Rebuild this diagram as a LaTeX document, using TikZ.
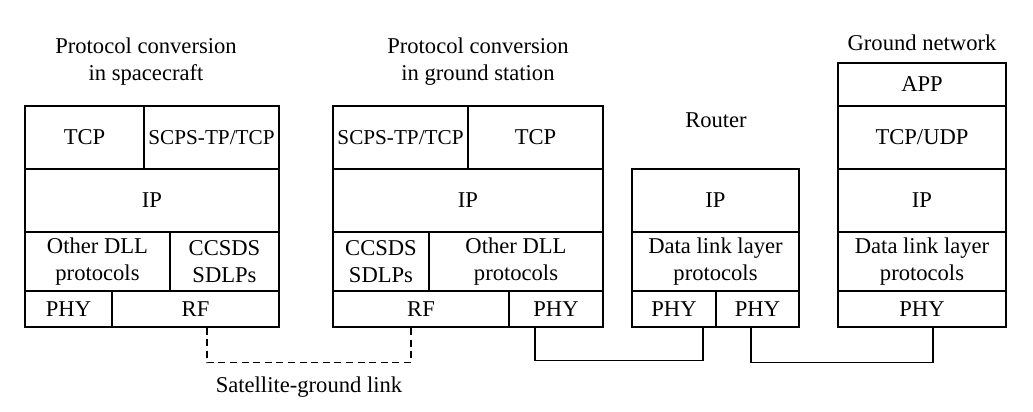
\documentclass[tikz,border=0pt]{standalone}
\usepackage{fontspec}
\setmainfont{Liberation Serif}
\usepackage{tikz}
\usetikzlibrary{positioning}

\begin{document}
\begin{tikzpicture}[x=0.5pt, y=-0.5pt,
        layer/.style={draw, line width=0.7pt, inner sep=0pt, align=center,
            font=\fontsize{11.3}{13.5}\selectfont},
        title/.style={align=center, inner sep=0pt, font=\fontsize{11.3}{13.5}\selectfont},
        link/.style={line width=0.7pt},
        radio/.style={line width=0.7pt, dash pattern=on 3.5pt off 2.3pt}]
        \useasboundingbox (0,0) rectangle (1033,412);

        % spacecraft
        \node[title]  (sc)       at (146,61.5)  {Protocol conversion\\in spacecraft};
        \node[layer, minimum width=59.5pt, minimum height=31.5pt]  (sc_tcp)   at (84.5,137.5)  {TCP};
        \node[layer, minimum width=67.5pt, minimum height=31.5pt]  (sc_scps)  at (211.5,137.5) {\fontsize{10.6}{13.5}\selectfont SCPS-TP/TCP};
        \node[layer, minimum width=127pt,  minimum height=31.5pt]  (sc_ip)    at (152,200.5)   {IP};
        \node[layer, minimum width=72.5pt, minimum height=29.5pt]  (sc_dll)   at (97.5,261.5)  {Other DLL\\protocols};
        \node[layer, minimum width=54.5pt, minimum height=29.5pt]  (sc_ccsds) at (224.5,261.5) {CCSDS\\SDLPs};
        \node[layer, minimum width=43.5pt, minimum height=18pt]    (sc_phy)   at (68.5,309)    {PHY};
        \node[layer, minimum width=83.5pt, minimum height=18pt]    (sc_rf)    at (195.5,309)   {RF};

        % ground station
        \node[title]  (gs)       at (478,61.5)  {Protocol conversion\\in ground station};
        \node[layer, minimum width=67.5pt, minimum height=31.5pt]  (gs_scps)  at (400.5,137.5) {\fontsize{10.6}{13.5}\selectfont SCPS-TP/TCP};
        \node[layer, minimum width=67.5pt, minimum height=31.5pt]  (gs_tcp)   at (535.5,137.5) {TCP};
        \node[layer, minimum width=135pt,  minimum height=31.5pt]  (gs_ip)    at (468,200.5)   {IP};
        \node[layer, minimum width=48pt,   minimum height=29.5pt]  (gs_ccsds) at (381,261.5)   {CCSDS\\SDLPs};
        \node[layer, minimum width=87pt,   minimum height=29.5pt]  (gs_dll)   at (516,261.5)   {Other DLL\\protocols};
        \node[layer, minimum width=88pt,   minimum height=18pt]    (gs_rf)    at (421,309)     {RF};
        \node[layer, minimum width=47pt,   minimum height=18pt]    (gs_phy)   at (556,309)     {PHY};

        % router
        \node[title]  (rt)       at (716,120)   {Router};
        \node[layer, minimum width=83.5pt, minimum height=31.5pt]  (rt_ip)    at (715.5,200.5) {IP};
        \node[layer, minimum width=83.5pt, minimum height=29.5pt]  (rt_dll)   at (715.5,261.5) {Data link layer\\protocols};
        \node[layer, minimum width=42pt,   minimum height=18pt]    (rt_phyl)  at (674,309)     {PHY};
        \node[layer, minimum width=41.5pt, minimum height=18pt]    (rt_phyr)  at (757.5,309)   {PHY};

        % ground network
        \node[title]  (gn)       at (922,43)    {Ground network};
        \node[layer, minimum width=84pt,   minimum height=21.5pt]  (gn_app)   at (922,84.5)    {APP};
        \node[layer, minimum width=84pt,   minimum height=31.5pt]  (gn_tcp)   at (922,137.5)   {TCP/UDP};
        \node[layer, minimum width=84pt,   minimum height=31.5pt]  (gn_ip)    at (922,200.5)   {IP};
        \node[layer, minimum width=84pt,   minimum height=29.5pt]  (gn_dll)   at (922,261.5)   {Data link layer\\protocols};
        \node[layer, minimum width=84pt,   minimum height=18pt]    (gn_phy)   at (922,309)     {PHY};

        \node[title]  (sgl)      at (309,387)   {Satellite-ground link};

        \draw[radio] ([xshift=5.75pt]sc_rf.south) -- ++(0,35) -| ([xshift=-5pt]gs_rf.south);
        \draw[link]  ([xshift=-10.5pt]gs_phy.south) -- ++(0,33) -| ([xshift=14.5pt]rt_phyl.south);
        \draw[link]  ([xshift=-3.25pt]rt_phyr.south) -- ++(0,35) -| ([xshift=5.5pt]gn_phy.south);
\end{tikzpicture}
\end{document}
